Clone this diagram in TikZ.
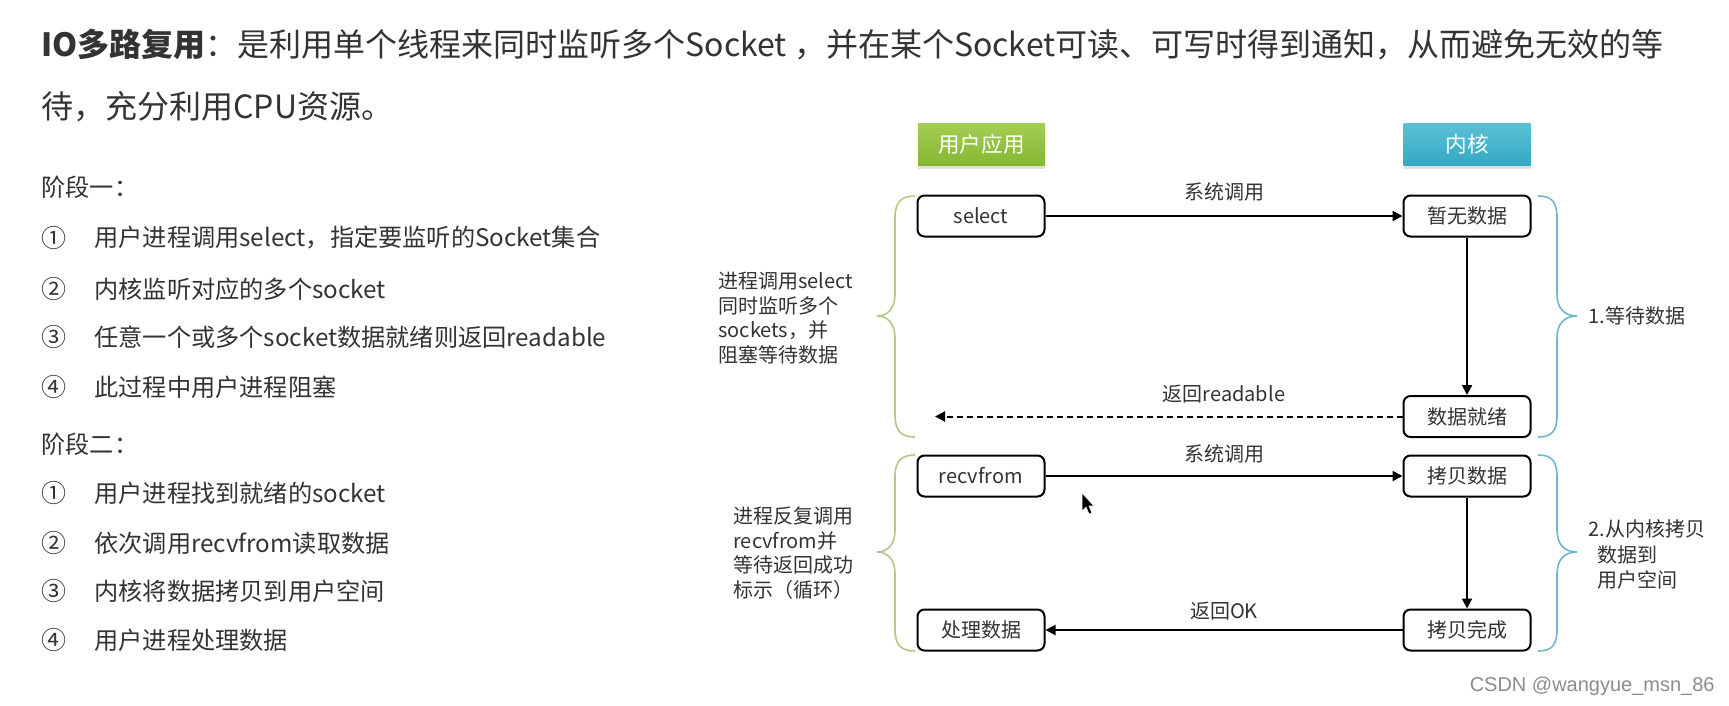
\documentclass[tikz,border=0pt]{standalone}
\usepackage{fontspec}
\setmainfont{Noto Sans CJK SC}
\newfontfamily\wmfont{Liberation Sans}
\usetikzlibrary{arrows.meta,shadows}
\definecolor{txt}{HTML}{333333}
\definecolor{hgreen}{HTML}{86B733}
\definecolor{hgreentop}{HTML}{A2CD52}
\definecolor{hblue}{HTML}{34A8C3}
\definecolor{hbluetop}{HTML}{5BC0D6}
\definecolor{brgreen}{HTML}{B3C98A}
\definecolor{brblue}{HTML}{6DB9CB}
\newcommand{\BraceLeft}[3]{%
  \draw[brgreen,line width=0.8pt] (915,#1) .. controls (901,#1) and (895,#1+6) .. (895,#1+22) -- (895,#2-22) .. controls (895,#2-8) and (888,#2) .. (877,#2) .. controls (888,#2) and (895,#2+8) .. (895,#2+22) -- (895,#3-22) .. controls (895,#3-6) and (901,#3) .. (915,#3);}
\newcommand{\BraceRight}[3]{%
  \draw[brblue,line width=0.8pt] (1538,#1) .. controls (1552,#1) and (1557,#1+6) .. (1557,#1+22) -- (1557,#2-22) .. controls (1557,#2-8) and (1564,#2) .. (1577,#2) .. controls (1564,#2) and (1557,#2+8) .. (1557,#2+22) -- (1557,#3-22) .. controls (1557,#3-6) and (1552,#3) .. (1538,#3);}
\begin{document}
\begin{tikzpicture}[x=0.5pt,y=-0.5pt,
  header/.style={minimum width=63.5pt,minimum height=20.5pt,inner sep=0pt,text=white,font=\fontsize{10.8}{12}\selectfont,drop shadow={opacity=0.25,shadow xshift=0pt,shadow yshift=-2pt}},
  proc/.style={draw=black,line width=1pt,rounded corners=3.5pt,minimum width=63.5pt,minimum height=20.5pt,inner sep=0pt,fill=white,text=txt,font=\fontsize{10}{12}\selectfont},
  conn/.style={line width=1pt,-{Triangle[length=5pt,width=5pt]}},
  lab/.style={text=txt,font=\fontsize{10}{12}\selectfont,inner sep=0pt},
  title/.style={anchor=west,text=txt,inner sep=0pt,font=\fontsize{16}{19}\selectfont},
  num/.style={anchor=west,text=txt,inner sep=0pt,font=\fontsize{12.5}{15}\selectfont},
  item/.style={anchor=west,text=txt,inner sep=0pt,font=\fontsize{12.1}{15}\selectfont},
  side/.style={anchor=west,text=txt,inner sep=0pt,align=left,font=\fontsize{10}{12.4}\selectfont}
]
\useasboundingbox (0,0) rectangle (1729,706);
\fill[white] (0,0) rectangle (1729,706);

% title
\node[title] (t1) at (41,44) {\textbf{IO多路复用}：是利用单个线程来同时监听多个Socket ，并在某个Socket可读、可写时得到通知，从而避免无效的等};
\node[title] (t2) at (41,107) {待，充分利用CPU资源。};

% left list
\node[item] (s1) at (41,187) {阶段一：};
\node[num] (n11) at (41,238) {①}; \node[item] (i11) at (94,238) {用户进程调用select，指定要监听的Socket集合};
\node[num] (n12) at (41,289) {②}; \node[item] (i12) at (94,289) {内核监听对应的多个socket};
\node[num] (n13) at (41,337) {③}; \node[item] (i13) at (94,337) {任意一个或多个socket数据就绪则返回readable};
\node[num] (n14) at (41,387) {④}; \node[item] (i14) at (94,387) {此过程中用户进程阻塞};
\node[item] (s2) at (41,444) {阶段二：};
\node[num] (n21) at (41,493) {①}; \node[item] (i21) at (94,493) {用户进程找到就绪的socket};
\node[num] (n22) at (41,543) {②}; \node[item] (i22) at (94,543) {依次调用recvfrom读取数据};
\node[num] (n23) at (41,591) {③}; \node[item] (i23) at (94,591) {内核将数据拷贝到用户空间};
\node[num] (n24) at (41,640) {④}; \node[item] (i24) at (94,640) {用户进程处理数据};

% headers
\node[header,top color=hgreentop,bottom color=hgreen] (user) at (981.5,144.5) {用户应用};
\node[header,top color=hbluetop,bottom color=hblue] (kernel) at (1467,144.5) {内核};

% process boxes
\node[proc] (select) at (981,216) {select};
\node[proc] (nodata) at (1467,216) {暂无数据};
\node[proc] (ready) at (1467,416.5) {数据就绪};
\node[proc] (recv) at (981,476) {recvfrom};
\node[proc] (copy) at (1467,476) {拷贝数据};
\node[proc] (handle) at (981,630) {处理数据};
\node[proc] (done) at (1467,630) {拷贝完成};
\coordinate (retend) at (935,416.5);

% connectors
\draw[conn] (select) -- node[lab,midway,yshift=12pt] (l1) {系统调用} (nodata);
\draw[conn] (nodata) -- (ready);
\draw[conn,dash pattern=on 3pt off 2pt] (ready) -- node[lab,pos=0.382,yshift=11pt] (l2) {返回readable} (retend);
\draw[conn] (recv) -- node[lab,midway,yshift=11pt] (l3) {系统调用} (copy);
\draw[conn] (copy) -- (done);
\draw[conn] (done) -- node[lab,midway,yshift=9.5pt] (l4) {返回OK} (handle);

% braces
\BraceLeft{196}{316}{437}
\BraceLeft{455}{552}{651}
\BraceRight{196}{316}{437}
\BraceRight{455}{552}{651}

% side texts
\node[side] (d1) at (718,318) {进程调用select\\同时监听多个\\sockets，并\\阻塞等待数据};
\node[side] (d2) at (733,553) {进程反复调用\\recvfrom并\\等待返回成功\\标示（循环）};
\node[side] (r1) at (1588,316) {1.等待数据};
\node[side] (r2a) at (1588,529) {2.从内核拷贝};
\node[side] (r2b) at (1597,555) {数据到};
\node[side] (r2c) at (1597,580) {用户空间};

% mouse cursor
\filldraw[fill=black,draw=white,line width=0.3pt] (1082,493) -- (1082,511) -- (1086,507) -- (1089,514) -- (1092,513) -- (1089,506) -- (1094,506) -- cycle;

% watermark
\node[anchor=east,inner sep=0pt,text=black!45,font=\wmfont\fontsize{10}{12}\selectfont] (wm) at (1715,686) {CSDN @wangyue\_msn\_86};
\end{tikzpicture}
\end{document}
